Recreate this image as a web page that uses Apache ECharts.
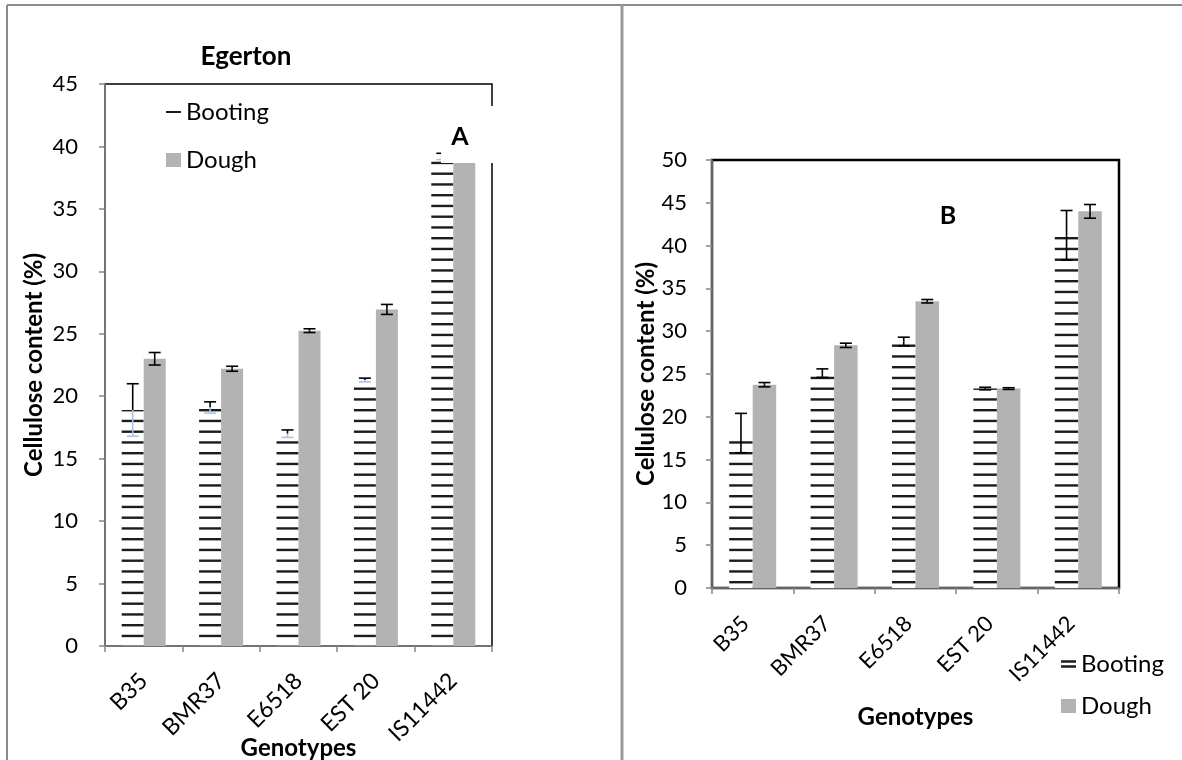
<!DOCTYPE html>
<html>
<head>
<meta charset="utf-8">
<script src="https://cdn.jsdelivr.net/npm/echarts@6/dist/echarts.min.js"></script>
<style>
  html, body { margin: 0; padding: 0; background: #fff; }
  #chart { width: 1182px; height: 760px; }
</style>
</head>
<body>
<div id="chart"></div>
<script>
// Genotypes on the category axis of both panels
const genotypes = ['B35', 'BMR37', 'E6518', 'EST 20', 'IS11442'];

// Panel A – Egerton: cellulose content (%) and error half-widths
const egertonBooting    = [18.9, 19.1, 17.0, 21.3, 39.2];
const egertonBootingErr = [2.1, 0.45, 0.3, 0.15, 0.25];
const egertonDough      = [23.0, 22.2, 25.25, 26.95, 38.7];
const egertonDoughErr   = [0.5, 0.2, 0.15, 0.4, 0];

// Panel B: cellulose content (%) and error half-widths
const panelBBooting    = [18.1, 25.1, 28.8, 23.3, 41.2];
const panelBBootingErr = [2.3, 0.5, 0.5, 0.15, 2.9];
const panelBDough      = [23.75, 28.35, 33.5, 23.3, 44.0];
const panelBDoughErr   = [0.25, 0.25, 0.2, 0.1, 0.8];

// Value-axis ranges
const axisA = { min: 0, max: 45, interval: 5 };
const axisB = { min: 0, max: 50, interval: 5 };

const FONT = 'Lato, "Open Sans", sans-serif';
const AXIS_GREY = '#868686';
const DOUGH_GREY = '#b3b3b3';

// Horizontal-stripe fill used for the Booting bars
function stripeFill() {
  const c = document.createElement('canvas');
  c.width = 8; c.height = 43;
  const g = c.getContext('2d');
  g.fillStyle = '#ffffff';
  g.fillRect(0, 0, c.width, c.height);
  g.fillStyle = '#1c1c1c';
  for (let k = 0; k < 4; k++) g.fillRect(0, k * 10.75 + 0.5, c.width, 2.4);
  return { image: c, repeat: 'repeat' };
}
const stripes = stripeFill();

// Error bars drawn next to each bar (side -1 = left bar, +1 = right bar)
function errorBars(name, axis, values, errs, side, barW, lowerColor) {
  return {
    type: 'custom',
    name: name,
    xAxisIndex: axis,
    yAxisIndex: axis,
    z: 5,
    silent: true,
    data: values.map((v, i) => [i, v, errs[i]]),
    renderItem(params, api) {
      const i = api.value(0), v = api.value(1), e = api.value(2);
      if (!e) return null;
      const mid = api.coord([i, v]);
      const x = mid[0] + side * barW / 2;
      const yTop = api.coord([i, v + e])[1];
      const yBot = api.coord([i, v - e])[1];
      const cap = 6;
      const upper = { stroke: '#000', lineWidth: 1.6 };
      const lower = { stroke: lowerColor || '#000', lineWidth: 1.6 };
      return {
        type: 'group',
        children: [
          { type: 'line', shape: { x1: x, y1: yTop, x2: x, y2: mid[1] }, style: upper },
          { type: 'line', shape: { x1: x, y1: mid[1], x2: x, y2: yBot }, style: lower },
          { type: 'line', shape: { x1: x - cap, y1: yTop, x2: x + cap, y2: yTop }, style: upper },
          { type: 'line', shape: { x1: x - cap, y1: yBot, x2: x + cap, y2: yBot }, style: lower }
        ]
      };
    }
  };
}

function categoryAxis(gridIndex, nameGap, label) {
  return {
    type: 'category',
    gridIndex: gridIndex,
    data: genotypes,
    name: 'Genotypes',
    nameLocation: 'middle',
    nameGap: nameGap,
    nameMoveOverlap: false,
    nameTextStyle: { fontFamily: FONT, fontSize: 24, fontWeight: 'bold', color: '#000' },
    axisLine: { lineStyle: { color: AXIS_GREY, width: 1.5 } },
    axisTick: { show: true, length: 6, lineStyle: { color: AXIS_GREY, width: 1.5 } },
    axisLabel: Object.assign({ rotate: 45, fontFamily: FONT, color: '#000', interval: 0 }, label),
    splitLine: { show: false }
  };
}

function valueAxis(gridIndex, range, nameGap, labelMargin) {
  return {
    type: 'value',
    gridIndex: gridIndex,
    min: range.min, max: range.max, interval: range.interval,
    name: 'Cellulose content (%)',
    nameLocation: 'middle',
    nameGap: nameGap,
    nameMoveOverlap: false,
    nameTextStyle: { fontFamily: FONT, fontSize: 24, fontWeight: 'bold', color: '#000' },
    axisLine: { show: true, lineStyle: { color: AXIS_GREY, width: 1.5 } },
    axisTick: { show: true, length: 6, lineStyle: { color: AXIS_GREY, width: 1.5 } },
    axisLabel: { margin: labelMargin, fontFamily: FONT, fontSize: 22, color: '#000' },
    splitLine: { show: false }
  };
}

const chart = echarts.init(document.getElementById('chart'), null, { renderer: 'canvas' });

chart.setOption({
  animation: false,
  backgroundColor: '#fff',
  grid: [
    { left: 105, top: 84, width: 387, height: 562, outerBoundsMode: 'none', containLabel: false,
      show: true, borderColor: '#000', borderWidth: 1.5, backgroundColor: 'transparent' },
    { left: 712, top: 160, width: 407, height: 428, outerBoundsMode: 'none', containLabel: false,
      show: true, borderColor: '#000', borderWidth: 2.5, backgroundColor: 'transparent' }
  ],
  xAxis: [
    categoryAxis(0, 90, { margin: 31, fontSize: 23 }),
    categoryAxis(1, 117, { margin: 25, fontSize: 22, padding: [0, 10, 0, 0] })
  ],
  yAxis: [valueAxis(0, axisA, 59, 27), valueAxis(1, axisB, 54, 25)],
  legend: [
    {
      orient: 'vertical', left: 161, top: 95, itemGap: 24,
      itemWidth: 15, itemHeight: 14,
      textStyle: { fontFamily: FONT, fontSize: 24, color: '#000' },
      selectedMode: false,
      data: [
        { name: 'Booting', icon: 'path://M0,0 L15,0 L15,2 L0,2 Z', itemStyle: { color: '#1c1c1c' } },
        { name: 'Dough', icon: 'rect', itemStyle: { color: DOUGH_GREY } }
      ]
    },
    {
      orient: 'vertical', left: 1056, top: 647, itemGap: 18,
      itemWidth: 15, itemHeight: 14,
      textStyle: { fontFamily: FONT, fontSize: 24, color: '#000' },
      selectedMode: false,
      data: [
        { name: 'Booting', icon: 'path://M0,0 L15,0 L15,2.5 L0,2.5 Z M0,5 L15,5 L15,7.5 L0,7.5 Z', itemStyle: { color: '#1c1c1c' } },
        { name: 'Dough', icon: 'rect', itemStyle: { color: DOUGH_GREY } }
      ]
    }
  ],
  series: [
    { type: 'bar', name: 'Booting', xAxisIndex: 0, yAxisIndex: 0, data: egertonBooting,
      barWidth: 22, barGap: '0%', itemStyle: { color: stripes } },
    { type: 'bar', name: 'Dough', xAxisIndex: 0, yAxisIndex: 0, data: egertonDough,
      barWidth: 22, barGap: '0%', itemStyle: { color: DOUGH_GREY } },
    { type: 'bar', name: 'Booting', xAxisIndex: 1, yAxisIndex: 1, data: panelBBooting,
      barWidth: 23.5, barGap: '0%', itemStyle: { color: stripes } },
    { type: 'bar', name: 'Dough', xAxisIndex: 1, yAxisIndex: 1, data: panelBDough,
      barWidth: 23.5, barGap: '0%', itemStyle: { color: DOUGH_GREY } },
    errorBars('Booting', 0, egertonBooting, egertonBootingErr, -1, 22, '#adc3e6'),
    errorBars('Dough', 0, egertonDough, egertonDoughErr, 1, 22),
    errorBars('Booting', 1, panelBBooting, panelBBootingErr, -1, 23.5),
    errorBars('Dough', 1, panelBDough, panelBDoughErr, 1, 23.5)
  ],
  graphic: [
    // page frame and panel divider
    { type: 'line', z: 50, shape: { x1: 7, y1: 5, x2: 1182, y2: 5 }, style: { stroke: '#8c8c8c', lineWidth: 2 } },
    { type: 'line', z: 50, shape: { x1: 7, y1: 5, x2: 7, y2: 760 }, style: { stroke: '#8c8c8c', lineWidth: 2 } },
    { type: 'line', z: 50, shape: { x1: 622, y1: 5, x2: 622, y2: 760 }, style: { stroke: '#9a9a9a', lineWidth: 3 } },
    // panel titles
    { type: 'text', z: 50, x: 246, y: 57, style: { text: 'Egerton', font: 'bold 26px ' + FONT, fill: '#000', align: 'center', verticalAlign: 'middle' } },
    // "A" label sits in a white text box
    { type: 'group', z: 60, children: [
      { type: 'rect', z: 60, shape: { x: 441, y: 106, width: 56, height: 57 }, style: { fill: '#fff' } },
      { type: 'text', z: 61, x: 460, y: 137, style: { text: 'A', font: 'bold 25px ' + FONT, fill: '#000', align: 'center', verticalAlign: 'middle' } }
    ] },
    { type: 'text', z: 50, x: 948, y: 216, style: { text: 'B', font: 'bold 25px ' + FONT, fill: '#000', align: 'center', verticalAlign: 'middle' } }
  ]
});
</script>
</body>
</html>
